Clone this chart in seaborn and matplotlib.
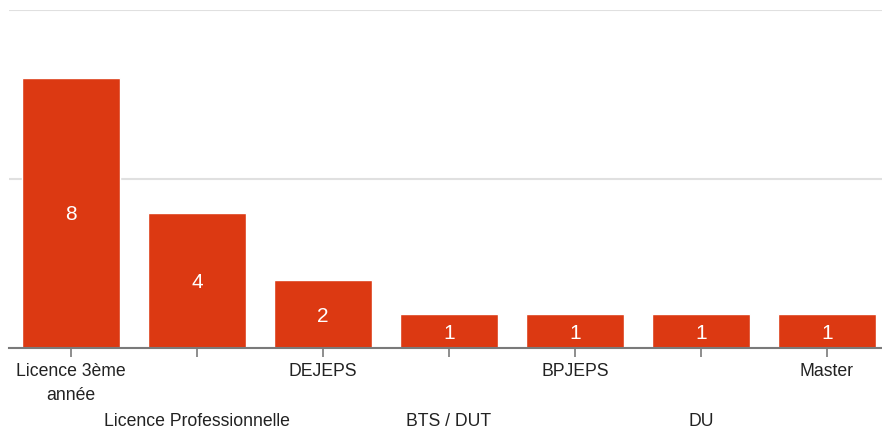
import numpy as np
import pandas as pd
import matplotlib
matplotlib.use("Agg")
import matplotlib.pyplot as plt
import seaborn as sns

categories = ["Licence 3ème\nannée", "Licence Professionnelle", "DEJEPS", "BTS / DUT",
              "BPJEPS", "DU", "Master"]
counts = [8, 4, 2, 1, 1, 1, 1]

sns.set_theme(style="white")
plt.rcParams['font.family'] = ['Liberation Sans', 'DejaVu Sans']

df = pd.DataFrame({"diplome": categories, "n": counts})

fig = plt.figure(figsize=(8.82, 4.28), dpi=100)
ax = fig.add_axes([9 / 882, 80 / 428, 873 / 882, 338 / 428])

sns.barplot(data=df, x="diplome", y="n", color="#dc3912", saturation=1,
            width=0.778, ax=ax)

ax.set_ylim(0, 10)
ax.set_xlim(-0.492, 6.437)
ax.set_yticks([0, 5, 10])
ax.set_yticklabels([])
ax.yaxis.grid(True, color="#e0e0e0", lw=1.5)
ax.set_axisbelow(True)
ax.tick_params(axis="y", length=0)
ax.set_xlabel("")
ax.set_ylabel("")

for s in ["top", "right", "left"]:
    ax.spines[s].set_visible(False)
ax.spines["bottom"].set_color("#7a7a7a")
ax.spines["bottom"].set_linewidth(1.5)

ax.tick_params(axis="x", length=6.5, width=1.2, color="#7a7a7a",
               labelsize=12.7, labelcolor="#222222", bottom=True)
# stagger labels on two rows like the original
for i, t in enumerate(ax.xaxis.get_major_ticks()):
    t.set_pad(4.5 if i % 2 == 0 else 40)
for lbl in ax.get_xticklabels():
    lbl.set_linespacing(1.55)

for p, v in zip(ax.patches, counts):
    ax.text(p.get_x() + p.get_width() / 2, v / 2, str(v), ha="center",
            va="center_baseline", color="white", fontsize=15)

fig.savefig("out.png", dpi=100)
